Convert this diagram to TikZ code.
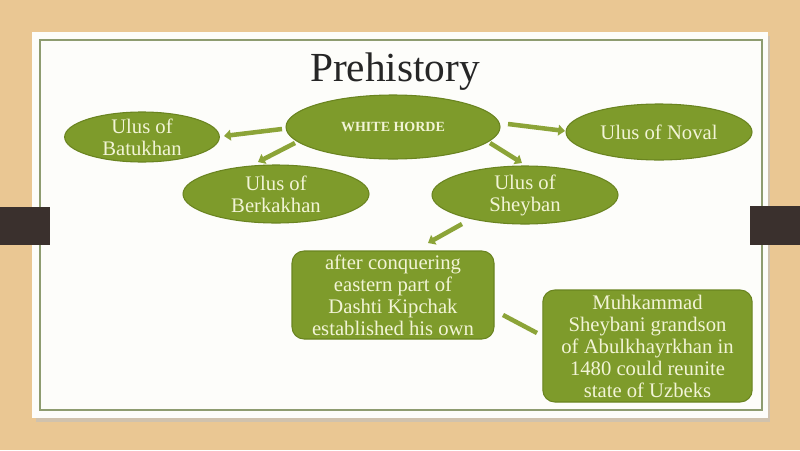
\documentclass[tikz,border=0pt]{standalone}
\usepackage{fontspec}
\setmainfont{Liberation Serif}
\usetikzlibrary{shapes.geometric,arrows.meta,calc}
\definecolor{woodbg}{HTML}{EAC793}
\definecolor{cardbg}{HTML}{FDFDFA}
\definecolor{olivefill}{HTML}{7E9B2B}
\definecolor{olivedraw}{HTML}{6A8420}
\definecolor{boxtext}{HTML}{F2F4D6}
\definecolor{arrowcol}{HTML}{8CA438}
\definecolor{barcol}{HTML}{3A302D}
\definecolor{framecol}{HTML}{8E9C70}
\tikzset{
  ell/.style={ellipse, fill=olivefill, draw=olivedraw, line width=0.8pt, inner sep=0pt},
  rbox/.style={rectangle, rounded corners=9pt, fill=olivefill, draw=olivedraw, line width=0.8pt, inner sep=0pt},
  lbl/.style={text=boxtext, font=\fontsize{15.5}{16.5}\selectfont, align=center},
  arr/.style={draw=arrowcol, line width=3.4pt, -{Triangle[length=5pt,width=8pt]}},
  lin/.style={draw=arrowcol, line width=3.4pt}
}
\begin{document}
\begin{tikzpicture}[x=0.75pt,y=-0.75pt]
\useasboundingbox (0,0) rectangle (800,450);
\fill[woodbg] (0,0) rectangle (800,450);
\fill[black!25,opacity=0.6] (36,36) rectangle (770,422);
\fill[cardbg] (32,32) rectangle (768,418);
\draw[framecol,line width=0.8pt] (40,40) rectangle (762,410);
\fill[barcol] (0,207) rectangle (50,245);
\fill[barcol] (750,206) rectangle (800,245);
\node[font=\fontsize{31}{36}\selectfont, text=black!85] (title) at (395,72) {Prehistory};
\node[ell, minimum width=160.5pt, minimum height=48pt, label={[text=boxtext,font=\bfseries\fontsize{10.5}{12}\selectfont]center:WHITE HORDE}] (wh) at (393,127) {};
\node[ell, minimum width=116pt, minimum height=37.5pt, label={[lbl]center:Ulus of\\Batukhan}] (bat) at (142,137) {};
\node[ell, minimum width=139.5pt, minimum height=43.5pt, label={[lbl]center:Ulus of\\Berkakhan}] (berk) at (276,194) {};
\node[ell, minimum width=139.5pt, minimum height=43.5pt, label={[lbl]center:Ulus of\\Sheyban}] (shey) at (525,195) {};
\node[ell, minimum width=139.5pt, minimum height=42pt, label={[lbl]center:Ulus of Noval}] (noval) at (659,132) {};
\node[rbox, minimum width=151.5pt, minimum height=66pt, label={[lbl]center:after conquering\\eastern part of\\Dashti Kipchak\\established his own}] (conq) at (393,295) {};
\node[rbox, minimum width=157pt, minimum height=84pt, label={[lbl]center:Muhkammad\\Sheybani grandson\\of Abulkhayrkhan in\\1480 could reunite\\state of Uzbeks}] (muh) at (647.5,346) {};
\draw[arr] ($(wh.center)+(-111,2)$) -- ($(bat.center)+(82,-1)$);
\draw[arr] ($(wh.center)+(-98,16)$) -- ($(berk.center)+(-18,-32)$);
\draw[arr] ($(wh.center)+(97,16)$) -- ($(shey.center)+(-3,-32)$);
\draw[arr] ($(wh.center)+(115,-3)$) -- ($(noval.center)+(-94,-1)$);
\draw[arr] ($(shey.center)+(-63,29)$) -- ($(conq.center)+(35,-52)$);
\draw[lin] ($(conq.center)+(110,20)$) -- ($(muh.center)+(-110.5,-13)$);
\end{tikzpicture}
\end{document}
